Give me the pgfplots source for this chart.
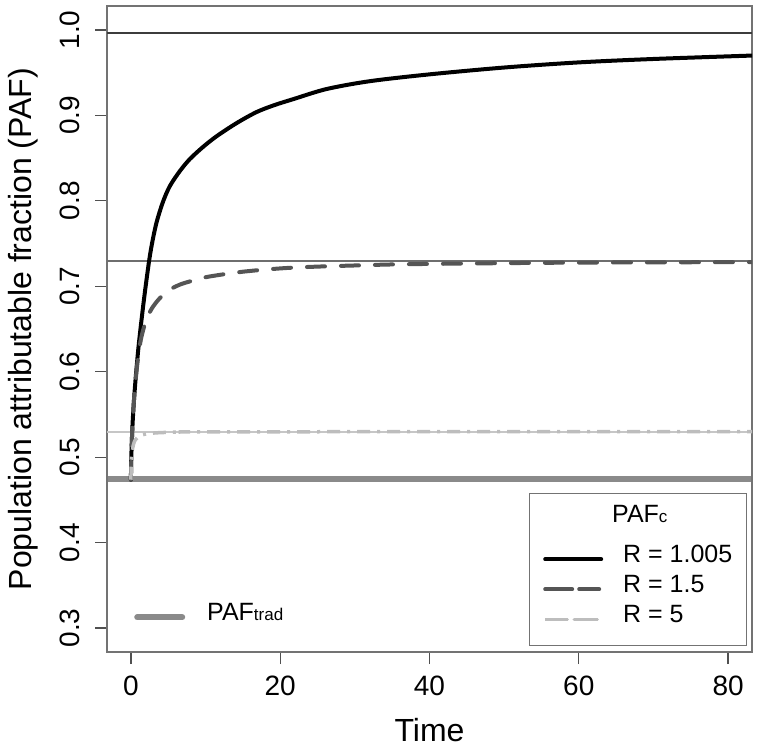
\documentclass[border=0pt]{standalone}
\usepackage{fontspec}
\setmainfont{Liberation Sans}
\usepackage{pgfplots}
\pgfplotsset{compat=1.18}
\definecolor{framec}{HTML}{737373}
\definecolor{tickc}{HTML}{505050}
\definecolor{topl}{HTML}{3C3C3C}
\definecolor{midl}{HTML}{6E6E6E}
\definecolor{lightl}{HTML}{C6C6C6}
\definecolor{tradl}{HTML}{8A8A8A}
\definecolor{dashc}{HTML}{555555}
\definecolor{dotdc}{HTML}{BDBDBD}
\newcommand\ls{\rule[-12pt]{0pt}{30pt}}
\begin{document}
\begin{tikzpicture}[x=1pt,y=1pt]
\useasboundingbox (0,0) rectangle (760,750);
\pgfplotsset{commonax/.style={at={(107pt,98pt)}, anchor=south west, scale only axis,
  width=645pt, height=646pt, xmin=-3.2, xmax=83.2, ymin=0.272, ymax=1.028}}
% PAF_trad line and its own legend
\begin{axis}[commonax, hide axis,
  legend style={at={(axis description cs:0.0419,0.03)}, anchor=south west, draw=none, fill=none,
    inner sep=0pt, font=\fontsize{25}{30}\selectfont, nodes={inner sep=0pt, text depth=}, column sep=22pt},
  legend image code/.code={\draw[#1,line cap=round] (3pt,0pt) -- (48pt,0pt);}]
\addplot[tradl, line width=6pt] coordinates {(-3.2,0.475) (83.2,0.475)};
\addlegendentry{PAF{\fontsize{17}{20}\selectfont trad}\ls}
\end{axis}
\begin{axis}[commonax,
  axis line style={draw=framec, line width=1.3pt},
  tick align=outside, tick pos=left,
  major tick length=12pt,
  tick style={draw=tickc, line width=1.3pt},
  xtick={0,20,40,60,80},
  ytick={0.3,0.4,0.5,0.6,0.7,0.8,0.9,1.0},
  /pgf/number format/assume math mode=true,
  ticklabel style={font=\fontsize{28}{30}\selectfont, text=black},
  yticklabel style={/pgf/number format/.cd, fixed, fixed zerofill, precision=1, /tikz/.cd,
    xshift=-16pt, rotate=90, anchor=base},
  xticklabel style={anchor=base, yshift=-31pt},
  xlabel={Time}, ylabel={Population attributable fraction (PAF)},
  label style={font=\fontsize{32}{36}\selectfont},
  xlabel style={at={(axis description cs:0.5,-0.1393)}, anchor=base},
  ylabel style={at={(axis description cs:-0.1163,0.5)}, anchor=base},
  legend style={at={(axis description cs:0.9922,0.0093)}, anchor=south east,
    draw=framec, line width=1.3pt, fill=white, inner xsep=14pt, inner ysep=11pt,
    font=\fontsize{25}{30}\selectfont, nodes={inner sep=0pt, text depth=}, column sep=20pt},
  legend cell align=left,
  legend image code/.code={\path (-7pt,0pt) -- (49pt,0pt); \draw[#1,line cap=round] (2pt,0pt) -- (47pt,0pt);}
]
\addplot[topl, line width=2.2pt, forget plot] coordinates {(-3.2,0.9965) (83.2,0.9965)};
\addplot[midl, line width=2pt, forget plot] coordinates {(-3.2,0.73) (83.2,0.73)};
\addplot[lightl, line width=2pt, forget plot] coordinates {(-3.2,0.53) (83.2,0.53)};

\addlegendimage{empty legend}
\addlegendentry{\hspace*{-11pt}PAF{\fontsize{17}{20}\selectfont c}\rule[-22pt]{0pt}{40pt}}

\addplot[black, line width=4pt, smooth, line cap=round] coordinates {
(0,0.4736) (0.067,0.5029) (0.20,0.5346) (0.40,0.5651) (0.67,0.5955) (1.00,0.6272)
(1.40,0.6589) (1.87,0.6928) (2.47,0.7315) (2.94,0.7550) (3.48,0.7761) (4.28,0.7984)
(5.21,0.8171) (6.55,0.8347) (7.89,0.8488) (9.63,0.8628) (11.50,0.8757) (14.17,0.8910)
(16.84,0.9039) (19.25,0.9121) (21.79,0.9191) (26.20,0.9308) (32,0.9400) (40,0.9480)
(50,0.9560) (60,0.9620) (70,0.9660) (83.2,0.9700)};
\addlegendentry{R = 1.005\ls}

\addplot[dashc, line width=4pt, smooth, line cap=round, dash pattern=on 18pt off 16pt] coordinates {
(0,0.4736) (0.067,0.5029) (0.20,0.5346) (0.40,0.5651) (0.67,0.5932) (1.00,0.6190)
(1.34,0.6377) (1.74,0.6518) (2.21,0.6635) (2.81,0.6741) (3.61,0.6835) (4.55,0.6917)
(5.62,0.6981) (6.82,0.7028) (8.16,0.7063) (9.90,0.7104) (12.17,0.7137) (14.85,0.7169)
(17.93,0.7195) (21.27,0.7216) (25.28,0.7231) (30.64,0.7245) (35.99,0.7257) (46.69,0.7268)
(60.07,0.7277) (83.2,0.7283)};
\addlegendentry{R = 1.5\ls}

\addplot[dotdc, line width=3.5pt, smooth, dash pattern=on 13pt off 7pt on 3pt off 7pt] coordinates {
(0,0.4736) (0.067,0.4947) (0.174,0.5064) (0.334,0.5146) (0.602,0.5205) (1.003,0.5240)
(1.605,0.5264) (2.542,0.5278) (3.88,0.5287) (6.56,0.5293) (13.24,0.5297) (83.2,0.5299)};
\addlegendentry{R = 5\ls}
\end{axis}
\end{tikzpicture}
\end{document}
